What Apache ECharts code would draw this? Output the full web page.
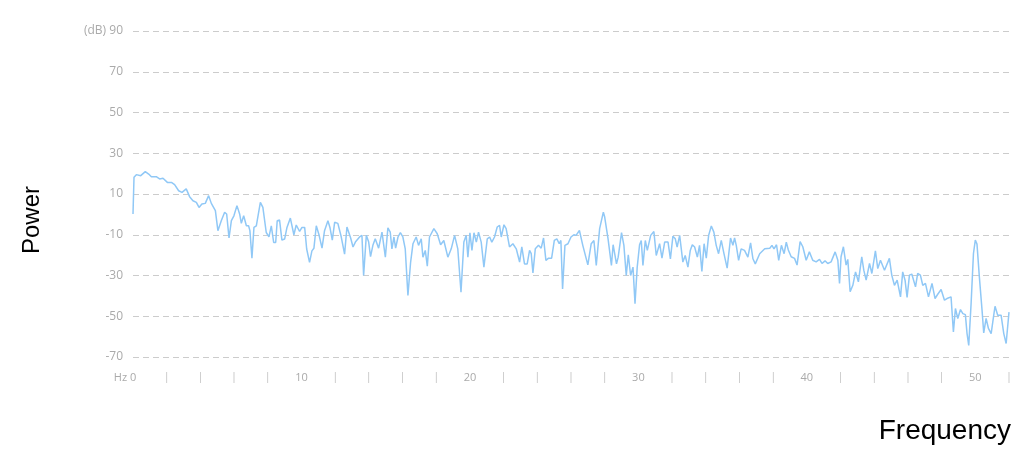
<!DOCTYPE html>
<html>
<head>
<meta charset="utf-8">
<script src="https://cdn.jsdelivr.net/npm/echarts@6/dist/echarts.min.js"></script>
<style>html,body{margin:0;padding:0;background:#fff}#c{width:1024px;height:453px}</style>
</head>
<body>
<div id="c"></div>
<script>
// Frequency (Hz) of each sample
const freq = [
0, 0.06, 0.20, 0.46, 0.73, 0.93, 1.09, 1.38, 1.58, 1.78,
2.04, 2.28, 2.47, 2.71, 2.91, 3.16, 3.36, 3.56, 3.76, 3.92,
4.09, 4.29, 4.49, 4.65, 4.89, 5.04, 5.24, 5.44, 5.56, 5.70,
5.84, 5.99, 6.17, 6.33, 6.43, 6.57, 6.73, 6.86, 6.94, 7.06,
7.18, 7.32, 7.56, 7.71, 7.91, 8.07, 8.21, 8.35, 8.47, 8.56,
8.70, 8.84, 9.00, 9.14, 9.34, 9.55, 9.69, 9.89, 10.03, 10.19,
10.31, 10.48, 10.62, 10.74, 10.88, 11.04, 11.22, 11.37, 11.57, 11.69,
11.83, 11.97, 12.16, 12.36, 12.46, 12.56, 12.70,
12.92, 13.06, 13.2, 13.45, 13.59, 13.69, 13.85, 13.99, 14.1, 14.24,
14.38, 14.58, 14.78, 14.98, 15.13, 15.27, 15.37, 15.49, 15.59, 15.73,
15.87, 16.02, 16.16, 16.32, 16.48, 16.62, 16.81, 16.95, 17.11,
17.21, 17.35, 17.47, 17.6, 17.86, 18.06, 18.26, 18.45, 18.69, 18.89,
19.09, 19.28, 19.47, 19.64, 19.78, 19.88, 20.0, 20.12, 20.24,
20.38, 20.51, 20.67, 20.83, 21.03, 21.17, 21.3, 21.46, 21.62, 21.76,
21.86, 22.02, 22.15, 22.35, 22.55, 22.75, 22.95, 23.08, 23.24, 23.4,
23.54, 23.64, 23.74, 23.88, 24.07, 24.23, 24.37, 24.51, 24.67, 24.85,
25.01, 25.16, 25.3, 25.4, 25.5, 25.64,
25.82, 26.0, 26.17, 26.3, 26.5, 26.7, 27.0, 27.2, 27.36, 27.5,
27.7, 27.92, 28.0, 28.2, 28.4, 28.5, 28.7, 28.8, 29.0, 29.14,
29.28, 29.4, 29.54, 29.68, 29.8, 29.93, 30.07, 30.17, 30.27, 30.41,
30.53, 30.73, 30.92, 31.06, 31.26, 31.4, 31.56, 31.76, 31.9, 32.05,
32.19, 32.3, 32.45, 32.64, 32.78, 32.94, 33.08, 33.2, 33.34, 33.5,
33.63, 33.77, 33.9, 34.03, 34.17, 34.33, 34.48, 34.62, 34.76, 34.92,
35.08, 35.27, 35.47, 35.61, 35.71, 35.81, 35.95, 36.1, 36.3, 36.5,
36.66, 36.8, 36.94, 37.2, 37.5, 37.8, 37.93, 38.05, 38.2, 38.33,
38.49, 38.65, 38.78,
38.9, 39.07, 39.27, 39.42, 39.6, 39.76, 39.96, 40.15, 40.35, 40.55,
40.75, 40.9, 41.08, 41.24, 41.44, 41.68, 41.84, 41.94, 42.03, 42.17,
42.33, 42.43, 42.57, 42.73, 42.89, 43.06, 43.26, 43.38, 43.52, 43.72,
43.86, 44.07, 44.21, 44.37, 44.61, 44.9, 45.04, 45.2, 45.36, 45.56,
45.69, 45.83, 45.95, 46.09, 46.23, 46.45, 46.58, 46.74, 46.88, 47.04,
47.22, 47.43, 47.61, 47.77, 47.97, 48.17, 48.32, 48.56, 48.7, 48.82,
48.96, 49.12, 49.26, 49.41, 49.51, 49.61, 49.75, 49.89, 50.0, 50.1,
50.24, 50.4, 50.5, 50.64, 50.78, 50.94, 51.08, 51.17, 51.33, 51.53,
51.69, 51.83, 52.0
];
// Power (dB) of each sample
const power = [
0.2, 18.2, 19.5, 19, 21, 19.8, 18.5, 18.5, 17.4, 17.7,
15.7, 15.7, 14.6, 11.6, 10.8, 12.5, 8.7, 6.7, 5.9, 3.4,
5.1, 5.4, 9.2, 5.4, 1.8, -8, -3.1, 1, 0.2, -11.6,
-3.1, -0.7, 4.3, 0.2, -4.4, -0.7, -5.6, -5.6, -8, -21.5,
-6.4, -5.6, 5.9, 3.4, -8.9, -11, -5.6, -13.8, -13.8, -3.1,
-2.8, -12.6, -12.1, -6.4, -1.8, -10, -5.2, -8.4, -6.4, -6.4,
-17, -23.6, -17.9, -16.6, -5.6, -10, -16.6, -8, -3.1, -6.4,
-12.6, -3.9, -4.4, -11, -11.6, -19.5, -6.2,
-11.6, -16, -13.6, -11.1, -10.3, -30, -10.3, -13.6, -20.7, -15.2,
-12, -16.6, -8.7, -21, -6.6, -8.7, -16.9, -11.1, -16.6, -11.1,
-9, -11.1, -16.9, -39.8, -23.4, -14.4, -11.1, -15.2, -12,
-21, -17.7, -25.4, -11.1, -7, -9.5, -14.9, -12.8, -21, -16.9,
-10.3, -16.9, -38.2, -13.6, -10.3, -21, -9, -17.7, -9,
-13.6, -8.7, -13.6, -25.9, -12, -11.1, -13.6, -11.1, -6.2, -5.4,
-11.1, -5.1, -7, -16, -14.4, -16.9, -23.4, -16, -24.3, -24.3,
-17.7, -19.3, -28.7, -16.9, -15.2, -16.6, -11.6, -22.6, -21.5, -21.5,
-12.8, -12, -14.4, -12.8, -36.6, -15.2,
-14.4, -11.1, -10, -10.3, -7.9, -15.2, -24.8, -14.4, -12.8, -25.1,
-7, 1.1, -1.3, -12, -25.1, -14.9, -24.3, -21, -9, -15.2,
-30, -19.8, -30, -25.9, -43.9, -25.9, -14.9, -12.8, -25.1, -12.8,
-17.7, -10.3, -8.4, -20.2, -14.4, -21.5, -13.6, -13.6, -21.8, -10.7,
-12, -16, -10.3, -23.4, -20.2, -25.9, -17.7, -14.9, -16, -21,
-15.2, -28, -14.4, -21.5, -10.3, -5.7, -8.7, -15.2, -19.3, -12.8,
-19.3, -26.4, -11.6, -15.2, -11.6, -15.2, -22.6, -16.9, -17.7, -21,
-14, -21.8, -24.3, -19.3, -16.9, -16.6, -15.2, -16.9, -14.9, -22.6,
-15.2, -19.3, -13.6,
-17.5, -20.8, -21.6, -24.9, -13.4, -15.9, -22.5, -18.4, -22.5, -23.3,
-22.1, -24.1, -22.8, -24.1, -23.3, -18.4, -22.5, -33.9, -20.8, -15.9,
-24.9, -22.1, -38, -34.8, -28.2, -33.1, -20.8, -27.4, -32.3, -24.1,
-29, -17.9, -26.6, -22.5, -27.4, -21.6, -29.8, -34.8, -32.3, -40.5,
-28.2, -32.3, -40.8, -29.8, -29.3, -35.6, -29, -29.8, -34.8, -33.9,
-40.5, -33.9, -41.3, -39.2, -36.9, -42.1, -41.3, -40.5, -57.7, -46.2,
-51.1, -46.7, -48.7, -49.2, -58.5, -64.3, -43.8, -19.2, -12.6, -14.6,
-30.7, -47, -58.2, -51.1, -56, -58.5, -50.3, -45.1, -49.5, -49.5,
-58.5, -63.4, -48
];
// Axis settings (dB range -70..90 step 20, Hz range 0..52 step 2)
const yMinDb = -70, yMaxDb = 90, yStepDb = 20;
const xMin = 0, xMax = 52, xStep = 2, xLabelEvery = 10;
// ECharts counts value ticks from multiples of the interval, so the axis is offset
// so that -70 dB lands on a multiple of 20; labels show the real dB value.
const OFFSET = 10;

const data = freq.map((f, i) => [f, power[i] + OFFSET]);
const labelColor = '#aaaaaa';
const labelFont = '"Open Sans", Lato, sans-serif';

const chart = echarts.init(document.getElementById('c'), null, {renderer: 'canvas'});
chart.setOption({
  animation: false,
  backgroundColor: '#ffffff',
  grid: {left: 133, right: 15, top: 31, bottom: 96, containLabel: false, outerBoundsMode: 'none'},
  xAxis: {
    type: 'value', min: xMin, max: xMax, interval: xStep,
    axisLine: {show: false}, axisTick: {show: false}, splitLine: {show: false},
    axisLabel: {
      showMinLabel: true, showMaxLabel: true,
      margin: 15,
      color: labelColor, fontFamily: labelFont, fontSize: 11,
      formatter: function (v) {
        if (v === 0) return '{hz|Hz 0}';
        if (v % xLabelEvery === 0) return String(v);
        return '{t||}';
      },
      rich: {
        hz: {color: labelColor, fontFamily: labelFont, fontSize: 11, padding: [0, 16, 0, 0]},
        t: {color: '#bbbbbb', fontFamily: labelFont, fontSize: 10}
      }
    }
  },
  yAxis: {
    type: 'value', min: yMinDb + OFFSET, max: yMaxDb + OFFSET, interval: yStepDb,
    axisLine: {show: false}, axisTick: {show: false},
    splitLine: {show: true, lineStyle: {color: '#cccccc', width: 1, type: [6, 4]}},
    axisLabel: {
      margin: 10, color: labelColor, fontFamily: labelFont, fontSize: 12,
      formatter: function (v) {
        const db = Math.round(v - OFFSET);
        return db === yMaxDb ? '(dB) ' + db : String(db);
      }
    }
  },
  graphic: [
    {type: 'text', x: 32, y: 220, rotation: Math.PI / 2,
     style: {text: 'Power', fill: '#000', font: '24px "Liberation Sans", Arial, sans-serif', textAlign: 'center', textVerticalAlign: 'middle'}},
    {type: 'text', x: 1011, y: 431,
     style: {text: 'Frequency', fill: '#000', font: '28px "Liberation Sans", Arial, sans-serif', textAlign: 'right', textVerticalAlign: 'middle'}}
  ],
  series: [{
    type: 'line', data: data, showSymbol: false, symbol: 'none',
    lineStyle: {color: '#90c8f6', width: 1.5},
    itemStyle: {color: '#90c8f6'}
  }]
});
</script>
</body>
</html>
